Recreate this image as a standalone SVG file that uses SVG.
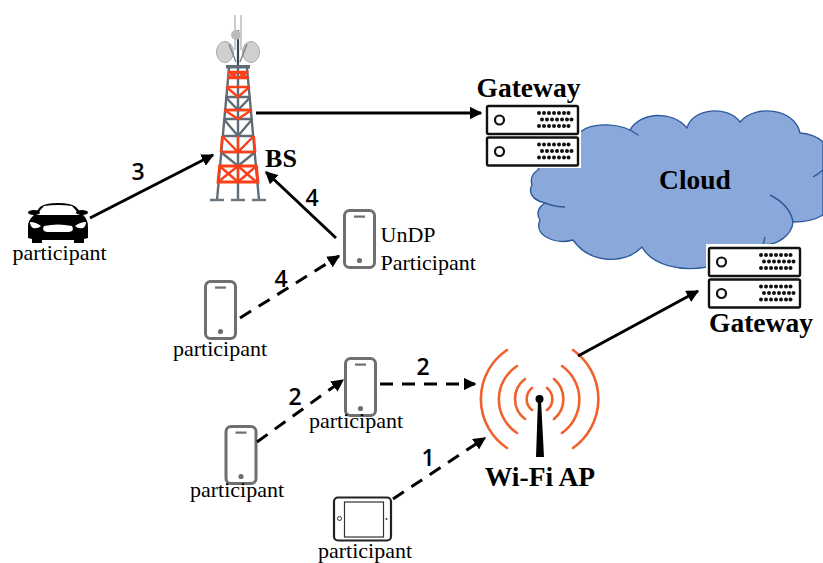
<svg xmlns="http://www.w3.org/2000/svg" xmlns:xlink="http://www.w3.org/1999/xlink" width="823" height="563" viewBox="0 0 823 563">
<style>
text{font-family:"Liberation Serif","Times New Roman",serif;fill:#000}
.lab{font-size:22px;text-anchor:middle}
.und{font-size:22px}
.b{font-weight:bold;font-size:27.500px;text-anchor:middle}
.n{font-family:"Open Sans","Noto Sans",sans-serif;font-weight:600;font-size:23px;text-anchor:middle}
.gl{stroke:#5f6b75;stroke-width:2.4;fill:none}
.rl{stroke:#fb3f17;stroke-width:2.4;fill:none}
.arc{stroke:#f0622d;stroke-width:2.6;fill:none;stroke-linecap:round}
.ph{fill:#fff;stroke:#6f6f6f;stroke-width:3}
.con{stroke:#000;stroke-width:3;fill:none;marker-end:url(#ah)}
.d{stroke-dasharray:13 9}
.cl{fill:none;stroke:#2f5a9c;stroke-width:1.4}
</style>
<defs>
<marker id="ah" viewBox="0 0 10 10" refX="9" refY="5" markerWidth="4.2" markerHeight="4.2" orient="auto"><path d="M0 0L10 5L0 10Z" fill="#000"/></marker>
<g id="server">
<rect x="0" y="0" width="91" height="28" rx="1.500" fill="#fff" stroke="#111" stroke-width="2.400"/>
<circle cx="12.500" cy="14" r="4.500" fill="#fff" stroke="#111" stroke-width="2.200"/>
<g fill="#111">
<circle cx="52" cy="7" r="2"/><circle cx="57" cy="7" r="2"/><circle cx="62" cy="7" r="2"/><circle cx="67" cy="7" r="2"/><circle cx="72" cy="7" r="2"/><circle cx="77" cy="7" r="2"/><circle cx="81.500" cy="7" r="2"/>
<circle cx="55" cy="13.500" r="2"/><circle cx="60" cy="13.500" r="2"/><circle cx="65" cy="13.500" r="2"/><circle cx="70" cy="13.500" r="2"/><circle cx="75" cy="13.500" r="2"/><circle cx="80" cy="13.500" r="2"/><circle cx="84.500" cy="13.500" r="2"/>
<circle cx="52" cy="20" r="2"/><circle cx="57" cy="20" r="2"/><circle cx="62" cy="20" r="2"/><circle cx="67" cy="20" r="2"/><circle cx="72" cy="20" r="2"/><circle cx="77" cy="20" r="2"/><circle cx="81.500" cy="20" r="2"/>
</g>
</g>
<g id="phone">
<rect x="0" y="0" width="30" height="57" rx="5" class="ph"/>
<rect x="9.500" y="5" width="11" height="2.200" fill="#6f6f6f"/>
<circle cx="15" cy="50" r="2.600" fill="#6f6f6f"/>
</g>
</defs>
<rect width="823" height="563" fill="#fff"/>

<g id="cloud">
<path d="M538 170C545 150 562 132 580 132C592 122 622 122 638 135L630 130C640 112 672 110 687 128C692 108 728 105 740 122C755 104 795 108 800 133C808 133 818 137 823 142V215C815 220 803 222 793 222C792 235 778 245 763 245C760 258 735 271 707 267C680 272 652 265 642 247C625 265 590 264 573 240C555 245 533 235 540 220C535 212 540 206 545 203C532 200 528 192 532 185C530 178 533 173 538 170Z" fill="#8ba8db" stroke="#2f5a9c" stroke-width="1.400" stroke-linejoin="round"/>
<path class="cl" d="M823 170Q818 174 813 177M770 195Q790 205 793 222M763 245L765 237M545 203Q555 207 565 207"/>
<text class="b" x="695" y="189">Cloud</text>
</g>

<g id="bs">
<path d="M235 15V50M241 15V50" stroke="#c9cdd0" stroke-width="2" fill="none"/>
<path d="M238 30V66" stroke="#3e4650" stroke-width="2.200" fill="none"/>
<circle cx="236" cy="35" r="5" fill="#b9bcbf"/>
<ellipse cx="225" cy="52" rx="8.500" ry="10.500" fill="#d0d0d1" stroke="#aaa"/>
<ellipse cx="251" cy="52" rx="8.500" ry="10.500" fill="#d0d0d1" stroke="#aaa"/>
<path d="M229 44L236 62M247 44L240 62" stroke="#7e868c" stroke-width="1.500"/>
<rect x="226" y="65" width="24" height="3.500" fill="#5f6b75"/>
<path class="gl" d="M229 68L217 200M247 68L259 200M238 68V200"/>
<path class="gl" d="M225.500 97H250.500M224.400 110H251.600M225.500 97L238 110L250.500 97M223.600 119H252.400M222.200 136H253.800M223.600 119L238 136L252.400 119M220.800 152H255.200M220.800 152L238 166L255.200 152"/>
<path class="rl" d="M227.700 72H248.300M227.100 78H248.900M228 72L238 78L248 72M228 78L238 72L248 78M226.400 87H249.600M226.400 87L238 97L249.600 87"/>
<path class="rl" d="M224.400 110H251.600M224.400 110L238 119L251.600 110M222.200 136L220.800 152M253.800 136L255.200 152M220.800 152H255.200M222.200 136L238 152L253.800 136M238 136V152"/>
<path d="M219.600 166H256.400L258 182H218Z" fill="none" stroke="#fb3f17" stroke-width="2.800"/>
<path class="rl" d="M219.600 166L238 182M238 166L218 182M238 166L256.400 182M256.400 166L238 182M238 166V182"/>
<path d="M210 200H224M231 200H245M252 200H266" stroke="#6d7780" stroke-width="2.400"/>
<text class="b" x="281" y="167" style="font-size:26px">BS</text>
</g>

<g id="gateway1">
<rect x="486" y="105" width="95" height="63" fill="#fff"/>
<use xlink:href="#server" href="#server" x="487" y="106"/>
<use xlink:href="#server" href="#server" x="487" y="137.500"/>
<text class="b" x="528.500" y="97">Gateway</text>
</g>

<g id="gateway2">
<rect x="706" y="244" width="97" height="66" fill="#fff"/>
<use xlink:href="#server" href="#server" x="709" y="248"/>
<use xlink:href="#server" href="#server" x="709" y="279.500"/>
<text class="b" x="761" y="332">Gateway</text>
</g>

<g id="car">
<path d="M33 216L40 207Q45 203 58 203Q71 203 76 207L84 216Q88 220 88 227V238L84 239V243H74V240H42V243H32V239L28 238V227Q28 220 33 216Z" fill="#000"/>
<path d="M36 215L44 206Q58 204 72 206L80 215Z" fill="#fff"/>
<ellipse cx="34" cy="212.500" rx="6" ry="2.500" fill="#000"/>
<ellipse cx="82" cy="212.500" rx="6" ry="2.500" fill="#000"/>
<path d="M30 222Q36 222 41 226Q38 229 33 228Q30 226 30 222ZM86 222Q80 222 75 226Q78 229 83 228Q86 226 86 222Z" fill="#fff"/>
<path d="M44 226Q58 223 72 226Q75 231 69 232H47Q41 231 44 226Z" fill="#fff"/>
<text class="lab" x="59.500" y="260">participant</text>
</g>

<g id="undp">
<use xlink:href="#phone" href="#phone" x="344.500" y="210.500"/>
<text class="und" x="380.500" y="242">UnDP</text>
<text class="und" x="380.500" y="270">Participant</text>
</g>

<g id="p1">
<use xlink:href="#phone" href="#phone" x="205.500" y="281.500"/>
<text class="lab" x="220" y="356">participant</text>
</g>
<g id="p2">
<use xlink:href="#phone" href="#phone" x="345.500" y="358.500"/>
<text class="lab" x="356" y="428">participant</text>
</g>
<g id="p3">
<use xlink:href="#phone" href="#phone" x="226" y="426.500"/>
<text class="lab" x="237" y="497">participant</text>
</g>

<g id="tablet">
<rect x="334" y="497.500" width="57" height="43" rx="4" fill="#fff" stroke="#222" stroke-width="2.200"/>
<rect x="344.500" y="502" width="39" height="35" fill="#fff" stroke="#333" stroke-width="1.200"/>
<circle cx="339.500" cy="518.500" r="2" fill="#fff" stroke="#333" stroke-width="1"/>
<circle cx="386.500" cy="519" r="1" fill="#333"/>
<text class="lab" x="365" y="557.500">participant</text>
</g>

<g id="wifi">
<path class="arc" d="M507 350A59 59 0 0 0 507 448M517 366A40 40 0 0 0 517 433M525 379A25 25 0 0 0 525 419M532 388A14 14 0 0 0 532 410M573 350A60 60 0 0 1 573 448M562 366A41 41 0 0 1 562 433M554 379A26 26 0 0 1 554 419M547 388A14 14 0 0 1 547 410"/>
<circle cx="539.500" cy="399" r="4" fill="#000"/>
<path d="M538 400H541L544 457H536Z" fill="#000"/>
<text class="b" x="540" y="486">Wi-Fi AP</text>
</g>

<g id="connectors">
<path class="con" d="M90 218L213 155"/>
<path class="con" d="M256 113H481"/>
<path class="con" d="M336 238L266 172"/>
<path class="con d" d="M240 318L339 256"/>
<path class="con d" d="M257 442L343 380"/>
<path class="con d" d="M380 384H475"/>
<path class="con d" d="M393 499L485 438"/>
<path class="con" d="M578 356L698 291"/>
</g>

<g id="labels">
<text class="n" x="138" y="180">3</text>
<text class="n" x="312" y="206">4</text>
<text class="n" x="281" y="287">4</text>
<text class="n" x="295" y="405">2</text>
<text class="n" x="423" y="375">2</text>
<text class="n" x="428" y="466">1</text>
</g>
</svg>
